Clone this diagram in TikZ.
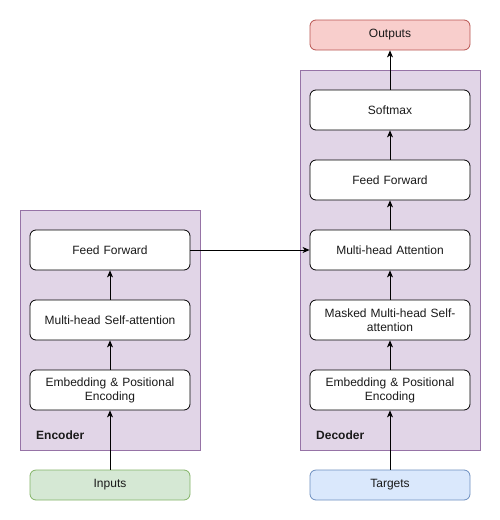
\documentclass[tikz,border=0pt]{standalone}
\usepackage{fontspec}
\setmainfont{Liberation Sans}
\usetikzlibrary{arrows.meta}
\definecolor{purfill}{HTML}{E1D5E7}
\definecolor{purline}{HTML}{9673A6}
\definecolor{grnfill}{HTML}{D5E8D4}
\definecolor{grnline}{HTML}{82B366}
\definecolor{redfill}{HTML}{F8CECC}
\definecolor{redline}{HTML}{B85450}
\definecolor{blufill}{HTML}{DAE8FC}
\definecolor{bluline}{HTML}{6C8EBF}
\definecolor{txt}{HTML}{1A1A1A}
\begin{document}
\begin{tikzpicture}[x=1pt,y=-1pt,
  every node/.style={font=\fontsize{12}{14}\selectfont, text=txt},
  container/.style={draw=purline, fill=purfill, line width=0.8pt},
  block/.style={draw=black, fill=white, rounded corners=6pt, line width=0.8pt,
    minimum width=160pt, minimum height=40pt, align=center, text width=150pt, inner sep=0pt},
  term/.style={rounded corners=6pt, line width=0.8pt,
    minimum width=160pt, minimum height=30pt, align=center, inner sep=0pt},
  flow/.style={draw=black, line width=0.8pt, -{Stealth[length=7pt,width=6pt,inset=2pt]}},
  lbl/.style={font=\bfseries\fontsize{12}{14}\selectfont, anchor=west, inner sep=0pt}]
\useasboundingbox (0,0) rectangle (500,520);
% containers
\path[container] (20,210) rectangle (200,450);
\path[container] (300,70) rectangle (480,450);
\node[lbl] (enclbl) at (36,435) {Encoder};
\node[lbl] (declbl) at (316,435) {Decoder};
% encoder
\node[block] (eff) at (110,250) {Feed Forward};
\node[block] (emh) at (110,320) {Multi-head Self-attention};
\node[block] (eemb) at (110,390) {Embedding \& Positional\\Encoding};
\node[term, draw=grnline, fill=grnfill] (inp) at (110,485) {Inputs};
% decoder
\node[term, draw=redline, fill=redfill] (out) at (390,35) {Outputs};
\node[block] (dsm) at (390,110) {Softmax};
\node[block] (dff) at (390,180) {Feed Forward};
\node[block] (dmha) at (390,250) {Multi-head Attention};
\node[block] (dmask) at (390,320) {Masked Multi-head Self-\\attention};
\node[block] (demb) at (390,390) {Embedding \& Positional\\Encoding};
\node[term, draw=bluline, fill=blufill] (tgt) at (390,485) {Targets};
% connectors
\draw[flow] (inp) -- (eemb);
\draw[flow] (eemb) -- (emh);
\draw[flow] (emh) -- (eff);
\draw[flow] (eff) -- (dmha);
\draw[flow] (tgt) -- (demb);
\draw[flow] (demb) -- (dmask);
\draw[flow] (dmask) -- (dmha);
\draw[flow] (dmha) -- (dff);
\draw[flow] (dff) -- (dsm);
\draw[flow] (dsm) -- (out);
\end{tikzpicture}
\end{document}
